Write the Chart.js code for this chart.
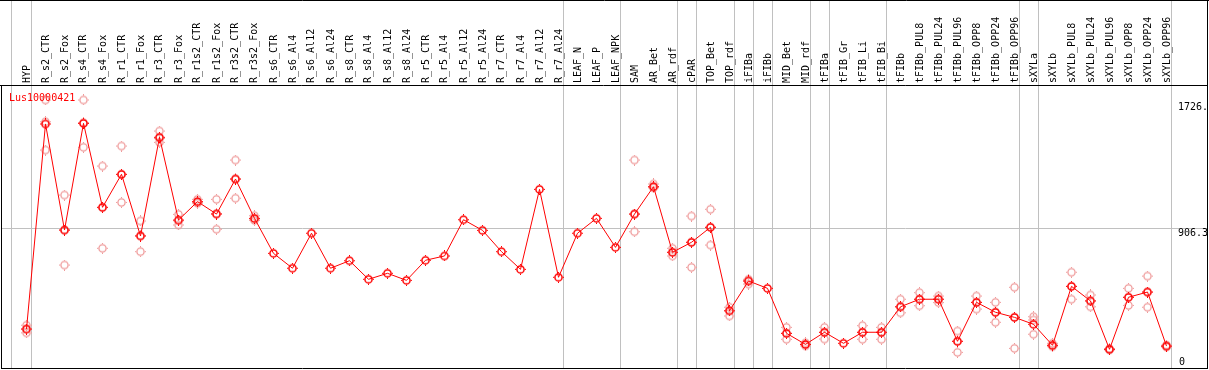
<!DOCTYPE html>
<html>
<head>
<meta charset="utf-8">
<script src="https://cdn.jsdelivr.net/npm/chart.js@4"></script>
<style>body{margin:0;background:#fff}canvas{display:block}</style>
</head>
<body>
<canvas id="chart" width="1209" height="370"></canvas>
<script>
const title = 'Lus10000421'
const categories = ['HYP','R_s2_CTR','R_s2_Fox','R_s4_CTR','R_s4_Fox','R_r1_CTR','R_r1_Fox','R_r3_CTR','R_r3_Fox',
  'R_r1s2_CTR','R_r1s2_Fox','R_r3s2_CTR','R_r3s2_Fox','R_s6_CTR','R_s6_Al4','R_s6_Al12','R_s6_Al24',
  'R_s8_CTR','R_s8_Al4','R_s8_Al12','R_s8_Al24','R_r5_CTR','R_r5_Al4','R_r5_Al12','R_r5_Al24',
  'R_r7_CTR','R_r7_Al4','R_r7_Al12','R_r7_Al24','LEAF_N','LEAF_P','LEAF_NPK','SAM','AR_Bet','AR_rdf',
  'cPAR','TOP_Bet','TOP_rdf','iFIBa','iFIBb','MID_Bet','MID_rdf','tFIBa','tFIB_Gr','tFIB_Li','tFIB_Bi',
  'tFIBb','tFIBb_PUL8','tFIBb_PUL24','tFIBb_PUL96','tFIBb_OPP8','tFIBb_OPP24','tFIBb_OPP96',
  'sXYLa','sXYLb','sXYLb_PUL8','sXYLb_PUL24','sXYLb_PUL96','sXYLb_OPP8','sXYLb_OPP24','sXYLb_OPP96']

// mean expression per sample
const means = [250,1586,895,1590,1043,1258,856,1499,960,1080,999,1227,971,
  743,646,874,646,695,574,613,567,698,726,962,893,754,639,1160,587,874,971,782,
  999,1177,750,815,913,369,563,515,222,150,229,157,229,229,
  395,444,444,170,424,359,326,281,144,528,433,118,457,491,139]

// replicates (null = not shown)
const repA = [275,1742,1123,1742,1312,1442,954,1540,997,1095,1095,1351,988,
  null,null,null,null,null,null,null,null,null,null,null,null,null,null,null,null,null,null,null,
  1351,1195,776,986,1030,392,574,null,261,160,261,null,272,261,
  444,487,465,237,465,424,522,330,157,620,472,122,515,595,145]
const repB = [225,1416,667,1434,776,1075,754,1466,928,1070,900,1102,958,
  null,null,null,null,null,null,null,null,null,null,null,null,null,null,null,null,null,null,null,
  884,1170,726,652,797,335,543,null,183,140,185,null,183,183,
  356,402,422,98,380,294,124,216,135,444,395,114,404,392,133]
const repC = [250,1600,895,1594,1041,1257,860,1491,955,1075,1002,1228,967,
  null,null,null,null,null,null,null,null,null,null,null,null,null,null,null,null,null,null,null,
  999,1177,750,815,913,369,563,null,222,150,229,null,229,229,
  395,444,444,170,424,359,326,309,144,528,433,118,457,491,139]

const yTicks = [0, 906.3, 1726]
const yTickLabels = ['0', '906.3', '1726.']
// vertical separators sit just after these sample indices
const groupBreaks = [-1, 0, 28, 31, 34, 35, 37, 38, 39, 41, 42, 45, 52, 53, 60]

const FONT = '10px "DejaVu Sans Mono", "Liberation Mono", monospace'

function marker(color, w) {
  const c = document.createElement('canvas')
  c.width = 11; c.height = 11
  const g = c.getContext('2d')
  g.strokeStyle = color
  g.lineWidth = w
  g.beginPath(); g.arc(5.5, 5.5, 3.6, 0, Math.PI * 2); g.stroke()
  g.fillStyle = color
  g.fillRect(5, 0, 1, 1); g.fillRect(5, 10, 1, 1)
  g.fillRect(0, 5, 1, 1); g.fillRect(10, 5, 1, 1)
  return c
}
const darkMark = marker('#ff0000', 1.5)
const lightMark = marker('#ef9a9a', 1.3)

const repPoints = []
;[repA, repB, repC].forEach(arr => arr.forEach((v, i) => { if (v != null) repPoints.push({x: i, y: v}) }))

const framePlugin = {
  id: 'frame',
  beforeDatasetsDraw(chart) {
    const ctx = chart.ctx, xs = chart.scales.x, ys = chart.scales.y, a = chart.chartArea
    ctx.save()
    ctx.strokeStyle = '#c0c0c0'
    ctx.lineWidth = 1
    groupBreaks.forEach(b => {
      const px = Math.round(xs.getPixelForValue(b + 4.5 / 19) - 0.5) + 0.5
      ctx.beginPath(); ctx.moveTo(px, 0); ctx.lineTo(px, a.bottom); ctx.stroke()
    })
    const gy = Math.round(ys.getPixelForValue(906.3) - 0.5) + 0.5
    ctx.beginPath(); ctx.moveTo(a.left, gy); ctx.lineTo(a.right, gy); ctx.stroke()
    // header labels
    ctx.fillStyle = '#000'
    ctx.font = FONT
    ctx.textAlign = 'left'
    ctx.textBaseline = 'middle'
    categories.forEach((c, i) => {
      ctx.save()
      ctx.translate(Math.round(xs.getPixelForValue(i)), 83)
      ctx.rotate(-Math.PI / 2)
      ctx.fillText(c, 0, 0)
      ctx.restore()
    })
    ctx.restore()
  },
  afterDraw(chart) {
    const ctx = chart.ctx, ys = chart.scales.y, a = chart.chartArea
    ctx.save()
    ctx.strokeStyle = '#000'
    ctx.lineWidth = 1
    ctx.beginPath()
    ctx.moveTo(0, 0.5); ctx.lineTo(1209, 0.5)
    ctx.moveTo(0, a.top + 0.5); ctx.lineTo(a.right, a.top + 0.5)
    ctx.moveTo(a.left + 0.5, a.top); ctx.lineTo(a.left + 0.5, a.bottom)
    ctx.moveTo(a.left, a.bottom - 0.5); ctx.lineTo(a.right, a.bottom - 0.5)
    ctx.moveTo(a.right + 0.5, 0); ctx.lineTo(a.right + 0.5, a.bottom)
    ctx.stroke()
    ctx.font = FONT
    ctx.textAlign = 'left'
    ctx.fillStyle = '#ff0000'
    ctx.textBaseline = 'alphabetic'
    ctx.fillText(title, 9, 101)
    ctx.fillStyle = '#000'
    yTicks.forEach((t, k) => {
      const py = ys.getPixelForValue(t)
      if (t === 0) { ctx.textBaseline = 'bottom'; ctx.fillText(yTickLabels[k], 1179, py) }
      else { ctx.textBaseline = 'top'; ctx.fillText(yTickLabels[k], 1178, py) }
    })
    ctx.restore()
  }
}

const xMin = -25.5 / 19
new Chart(document.getElementById('chart').getContext('2d'), {
  type: 'line',
  data: {
    datasets: [{
      data: means.map((v, i) => ({x: i, y: v})),
      borderColor: '#ff0000',
      borderWidth: 1,
      pointStyle: darkMark,
      tension: 0
    }, {
      type: 'scatter',
      data: repPoints,
      showLine: false,
      pointStyle: lightMark
    }]
  },
  options: {
    responsive: false,
    animation: false,
    devicePixelRatio: 1,
    layout: {autoPadding: false, padding: {left: 1, right: 2, top: 85, bottom: 1}},
    plugins: {legend: {display: false}, tooltip: {enabled: false}},
    scales: {
      x: {type: 'linear', display: false, min: xMin, max: xMin + 1206 / 19},
      y: {type: 'linear', display: false, min: -10.4, max: 1839.7}
    }
  },
  plugins: [framePlugin]
})
</script>
</body>
</html>
